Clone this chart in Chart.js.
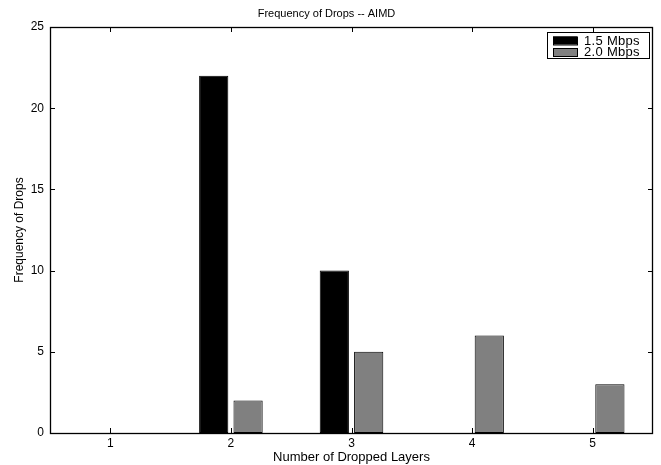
<!DOCTYPE html>
<html>
<head>
<meta charset="utf-8">
<script src="https://cdn.jsdelivr.net/npm/chart.js@4.4.1/dist/chart.umd.min.js"></script>
<style>
    html, body { margin: 0; padding: 0; background: #fff; }
    #wrap { width: 661px; height: 465px; }
</style>
</head>
<body>
<div id="wrap"><canvas id="drops-chart" width="661" height="465"></canvas></div>
<script>
// данные с графика
const layers = ['1', '2', '3', '4', '5'];
const drops15 = [0, 22, 10, 0, 0];
const drops20 = [0, 2, 5, 6, 3];
const yTicks = [0, 5, 10, 15, 20, 25];

const FONT = "'Liberation Sans', Arial, Helvetica, sans-serif";

// рамка вокруг области графика и засечки внутрь, как в MATLAB
const boxTicks = {
    id: 'boxTicks',
    afterDatasetsDraw(chart) {
        const ctx = chart.ctx;
        const a = chart.chartArea;
        const x = chart.scales.x;
        const y = chart.scales.y;
        const len = 5;
        ctx.save();
        ctx.strokeStyle = '#000';
        ctx.lineWidth = 1;
        ctx.beginPath();
        x.ticks.forEach((t, i) => {
            const px = Math.round(x.getPixelForTick(i)) + 0.5;
            ctx.moveTo(px, a.bottom);
            ctx.lineTo(px, a.bottom - len);
            ctx.moveTo(px, a.top);
            ctx.lineTo(px, a.top + len);
        });
        y.ticks.forEach((t, i) => {
            const py = Math.round(y.getPixelForTick(i)) + 0.5;
            ctx.moveTo(a.left, py);
            ctx.lineTo(a.left + len, py);
            ctx.moveTo(a.right, py);
            ctx.lineTo(a.right - len, py);
        });
        ctx.stroke();
        ctx.lineWidth = 1.3;
        ctx.strokeRect(Math.round(a.left) + 0.5, Math.round(a.top) + 0.5,
            Math.round(a.right - a.left) - 1, Math.round(a.bottom - a.top));
        ctx.restore();
    }
};

// легенда внутри, в правом верхнем углу
const innerLegend = {
    id: 'innerLegend',
    afterDraw(chart) {
        const ctx = chart.ctx;
        const a = chart.chartArea;
        const boxW = 102, boxH = 26;
        const bx = a.right - 4 - boxW;
        const by = a.top + 5;
        ctx.save();
        ctx.fillStyle = '#fff';
        ctx.fillRect(bx, by, boxW, boxH);
        ctx.strokeStyle = '#000';
        ctx.lineWidth = 1;
        ctx.strokeRect(bx + 0.5, by + 0.5, boxW, boxH);
        ctx.font = '13px ' + FONT;
        ctx.letterSpacing = '0.3px';
        ctx.textBaseline = 'middle';
        chart.data.datasets.forEach((ds, i) => {
            const rowY = by + 8.5 + i * 11.5;
            ctx.fillStyle = ds.backgroundColor;
            ctx.fillRect(bx + 6, rowY - 4, 24, 8);
            ctx.strokeStyle = '#000';
            ctx.strokeRect(bx + 6.5, rowY - 3.5, 24, 8);
            ctx.fillStyle = '#000';
            ctx.fillText(ds.label, bx + 37, rowY + 0.5);
        });
        ctx.restore();
    }
};

new Chart(document.getElementById('drops-chart'), {
    type: 'bar',
    data: {
        labels: layers,
        datasets: [{
            label: '1.5 Mbps',
            data: drops15,
            backgroundColor: '#000000',
            borderColor: '#000000',
            borderWidth: 1,
            borderSkipped: false,
            categoryPercentage: 0.57,
            barPercentage: 0.85
        }, {
            label: '2.0 Mbps',
            data: drops20,
            backgroundColor: '#808080',
            borderColor: '#000000',
            borderWidth: 1,
            borderSkipped: false,
            categoryPercentage: 0.57,
            barPercentage: 0.85
        }]
    },
    options: {
        responsive: false,
        animation: false,
        layout: { padding: { left: 0, right: 8, top: 0, bottom: 0 } },
        plugins: {
            legend: { display: false },
            tooltip: { enabled: false },
            title: {
                display: true,
                text: 'Frequency of Drops -- AIMD',
                color: '#000',
                font: { family: FONT, size: 11, weight: 'normal' },
                padding: { top: 7.4, bottom: 6.4 }
            }
        },
        scales: {
            x: {
                grid: { display: false, drawTicks: false },
                border: { display: false },
                ticks: {
                    color: '#000',
                    font: { family: FONT, size: 12 },
                    padding: 3,
                    maxRotation: 0
                },
                title: {
                    display: true,
                    text: 'Number of Dropped Layers',
                    color: '#000',
                    font: { family: FONT, size: 13 },
                    padding: { top: 0, bottom: 0 }
                },
                afterFit(scale) { scale.height = 32; }
            },
            y: {
                min: 0,
                max: 25,
                grid: { display: false, drawTicks: false },
                border: { display: false },
                afterBuildTicks(scale) {
                    scale.ticks = yTicks.map(v => ({ value: v }));
                },
                ticks: {
                    color: '#000',
                    font: { family: FONT, size: 12 },
                    padding: 6
                },
                title: {
                    display: true,
                    text: 'Frequency of Drops',
                    color: '#000',
                    font: { family: FONT, size: 12 },
                    padding: { top: 12, bottom: 0 }
                },
                afterFit(scale) { scale.width = 50; }
            }
        }
    },
    plugins: [boxTicks, innerLegend]
});
</script>
</body>
</html>
